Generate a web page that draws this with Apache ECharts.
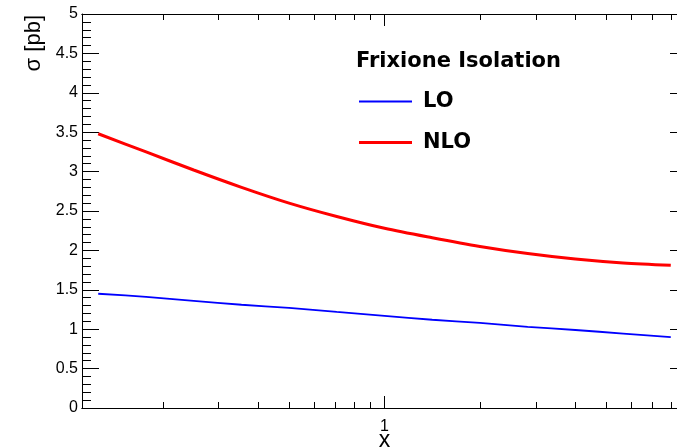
<!DOCTYPE html>
<html>
<head>
<meta charset="utf-8">
<script src="https://cdn.jsdelivr.net/npm/echarts@6/dist/echarts.min.js"></script>
<style>
html, body { margin: 0; padding: 0; background: #fff; }
#chart { width: 677px; height: 448px; }
</style>
</head>
<body>
<div id="chart"></div>
<script>
// scale points (log spaced) and cross sections
var scaleValues = [0.125, 0.177, 0.25, 0.354, 0.5, 0.707, 1, 1.414, 2, 2.83, 4, 5.66, 8];
var loValues = [1.45, 1.41, 1.36, 1.31, 1.27, 1.22, 1.17, 1.12, 1.08, 1.03, 0.99, 0.945, 0.90];
var nloValues = [3.48, 3.25, 3.02, 2.80, 2.60, 2.43, 2.28, 2.16, 2.05, 1.96, 1.89, 1.84, 1.81];

var xMinorTicks = [0.2, 0.3, 0.4, 0.5, 0.6, 0.7, 0.8, 0.9, 2, 3, 4, 5, 6, 7, 8];
var xMajorTicks = [1];
var xLabels = [1];

var xMin = 1 / 9, xMax = 9;
var yMin = 0, yMax = 5;

var chart = echarts.init(document.getElementById('chart'));

var black = '#000';
var tickFont = 'Liberation Sans';
var legendFont = 'DejaVu Sans';

function logAxis(pos, ticks, len, withLabels) {
    return {
        type: 'log',
        gridIndex: 0,
        position: pos,
        min: xMin,
        max: xMax,
        axisLine: { show: true, onZero: false, lineStyle: { color: black, width: 1 } },
        axisTick: { show: true, inside: true, length: len, customValues: ticks, lineStyle: { color: black } },
        axisLabel: withLabels ? {
            show: true, customValues: xLabels, margin: 11,
            color: black, fontSize: 16, fontFamily: tickFont
        } : { show: false },
        splitLine: { show: false },
        minorTick: { show: false }
    };
}

function valAxis(pos, withLabels) {
    return {
        type: 'value',
        position: pos,
        min: yMin,
        max: yMax,
        interval: 0.5,
        axisLine: { show: true, onZero: false, lineStyle: { color: black, width: 1 } },
        axisTick: { show: true, inside: true, length: 17, lineStyle: { color: black } },
        minorTick: { show: true, splitNumber: 5, length: 9, lineStyle: { color: black } },
        axisLabel: withLabels ? {
            show: true, margin: 4, color: black, fontSize: 16, fontFamily: tickFont
        } : { show: false },
        splitLine: { show: false }
    };
}

var bottomAxis = logAxis('bottom', xMinorTicks, 6, true);
bottomAxis.name = 'x';
bottomAxis.nameLocation = 'middle';
bottomAxis.nameGap = 21;
bottomAxis.nameMoveOverlap = false;
bottomAxis.nameTextStyle = { color: black, fontSize: 23, fontFamily: tickFont };

chart.setOption({
    animation: false,
    backgroundColor: '#fff',
    title: {
        text: 'Frixione Isolation',
        left: 356,
        top: 51,
        padding: 0,
        textStyle: { color: black, fontFamily: legendFont, fontWeight: 'bold', fontSize: 21 }
    },
    legend: {
        orient: 'vertical',
        left: 359,
        top: 91,
        padding: 0,
        itemWidth: 53,
        itemHeight: 20,
        itemGap: 20,
        textStyle: { color: black, fontFamily: legendFont, fontWeight: 'bold', fontSize: 21, padding: [0, 0, 0, 6] },
        data: [
            { name: 'LO', icon: 'path://M0,0h53v2h-53z' },
            { name: 'NLO', icon: 'path://M0,0h53v3h-53z' }
        ]
    },
    grid: { left: 82, top: 14, width: 605, height: 394, containLabel: false, outerBoundsMode: 'none' },
    xAxis: [
        bottomAxis,
        logAxis('bottom', xMajorTicks, 12, false),
        logAxis('top', xMinorTicks, 6, false),
        logAxis('top', xMajorTicks, 12, false)
    ],
    yAxis: [
        valAxis('left', true),
        valAxis('right', false)
    ],
    graphic: [{
        type: 'text',
        x: 34,
        y: 15,
        rotation: Math.PI / 2,
        style: {
            text: 'σ [pb]',
            font: '22px "Liberation Sans"',
            align: 'right',
            verticalAlign: 'middle',
            fill: black
        }
    }],
    series: [{
        name: 'LO',
        type: 'line',
        symbol: 'none',
        smooth: 0.3,
        lineStyle: { color: '#0000ff', width: 1.8 },
        itemStyle: { color: '#0000ff' },
        data: scaleValues.map(function (x, i) { return [x, loValues[i]]; })
    }, {
        name: 'NLO',
        type: 'line',
        symbol: 'none',
        smooth: 0.3,
        lineStyle: { color: '#ff0000', width: 3 },
        itemStyle: { color: '#ff0000' },
        data: scaleValues.map(function (x, i) { return [x, nloValues[i]]; })
    }]
});
</script>
</body>
</html>
